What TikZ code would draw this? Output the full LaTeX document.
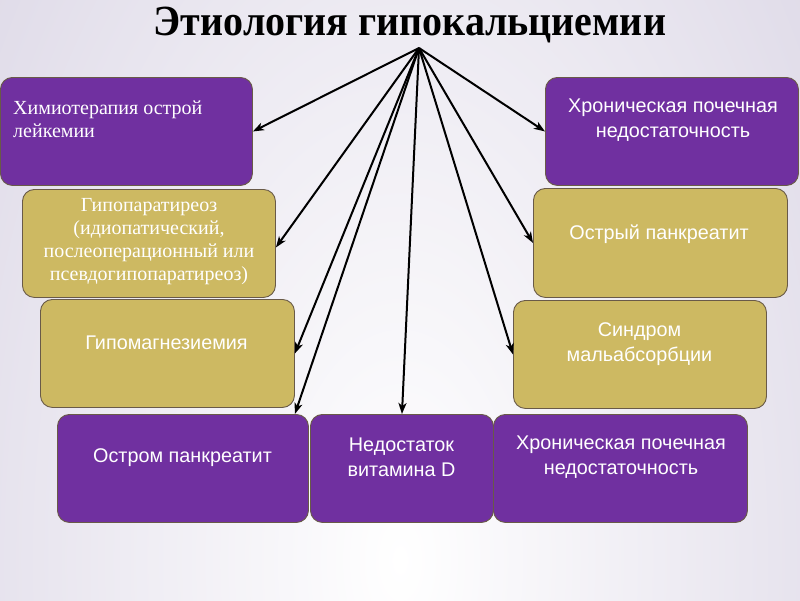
\documentclass[tikz,border=0pt]{standalone}
\usepackage{fontspec}
\setmainfont{Liberation Serif}
\setsansfont{Liberation Sans}
\usetikzlibrary{arrows.meta}
\definecolor{purp}{RGB}{112,48,160}
\definecolor{gold}{RGB}{205,185,98}
\definecolor{bgl}{RGB}{203,196,218}
\definecolor{edge}{RGB}{105,90,72}
\begin{document}
\begin{tikzpicture}[x=1pt,y=-1pt,
  box/.style={draw=edge, line width=0.9pt, rounded corners=12pt, anchor=north west, inner sep=0pt},
  pbox/.style={box, fill=purp},
  gbox/.style={box, fill=gold},
  stxt/.style={text=white, font=\sffamily\fontsize{19.8}{25}\selectfont, align=center, inner sep=0pt},
  rtxt/.style={text=white, font=\fontsize{20}{23}\selectfont, align=center, inner sep=0pt},
  arr/.style={-{Stealth[length=11pt,width=8pt,inset=3pt]}, line width=2pt, black}]
\begin{scope}
  \clip (0,0) rectangle (800,600);
  \fill[bgl] (0,0) rectangle (800,600);
  \shade[inner color=white, outer color=bgl] (400,560) ellipse (850 and 1600);
\end{scope}
\useasboundingbox (0,0) rectangle (800,600);

\node[font=\bfseries\fontsize{43}{45}\selectfont, inner sep=0pt, xscale=0.93] (title) at (410,25) {Этиология гипокальциемии};

\node[pbox, minimum width=252pt, minimum height=108pt] (b1) at (0,77) {};
\node[gbox, minimum width=253pt, minimum height=108pt] (b2) at (22,189) {};
\node[gbox, minimum width=254pt, minimum height=108pt] (b3) at (40,299) {};
\node[pbox, minimum width=251pt, minimum height=108pt] (b4) at (57,414) {};
\node[pbox, minimum width=183pt, minimum height=108pt] (b5) at (310,414) {};
\node[pbox, minimum width=254pt, minimum height=108pt] (b6) at (493,414) {};
\node[gbox, minimum width=253pt, minimum height=108pt] (b7) at (513,300) {};
\node[gbox, minimum width=254pt, minimum height=109pt] (b8) at (533,188) {};
\node[pbox, minimum width=253pt, minimum height=108pt] (b9) at (545,77) {};

\node[rtxt, align=left, anchor=west] (t1) at (13,119) {Химиотерапия острой\\лейкемии};
\node[rtxt] (t2) at (149,242) {Гипопаратиреоз\\(идиопатический,\\послеоперационный или\\псевдогипопаратиреоз)};
\node[stxt] (t3) at (166.5,343) {Гипомагнезиемия};
\node[stxt] (t4) at (182.5,458) {Остром панкреатит};
\node[stxt] (t5) at (401.5,457) {Недостаток\\витамина D};
\node[stxt] (t6) at (621,457) {Хроническая почечная\\недостаточность};
\node[stxt] (t7) at (639.5,344) {Синдром\\мальабсорбции};
\node[stxt] (t8) at (659,234) {Острый панкреатит};
\node[stxt] (t9) at (673,120) {Хроническая почечная\\недостаточность};

\coordinate (apex) at (419,48);
\draw[arr] (apex) -- (b1.east);
\draw[arr] (apex) -- ([yshift=-4pt]b2.east);
\draw[arr] (apex) -- (b3.east);
\draw[arr] (apex) -- ([xshift=-14pt]b4.north east);
\draw[arr] (apex) -- (b5.north);
\draw[arr] (apex) -- (b7.west);
\draw[arr] (apex) -- (b8.west);
\draw[arr] (apex) -- (b9.west);
\end{tikzpicture}
\end{document}
